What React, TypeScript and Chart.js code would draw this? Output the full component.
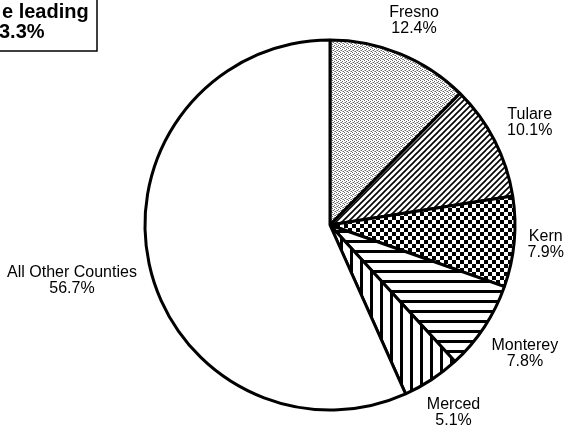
import React, { useEffect, useRef } from "react";
import { Chart, registerables } from "chart.js";

Chart.register(...registerables);

// County shares of the total (percent)
const counties = ["Fresno", "Tulare", "Kern", "Monterey", "Merced", "All Other Counties"];
const shares = [12.4, 10.1, 7.9, 7.8, 5.1, 56.7];
const captionLines = ["e leading", "3.3%"];

const FONT = "'Liberation Sans', Arial, Helvetica, sans-serif";

function tile(w: number, h: number, paint: (c: CanvasRenderingContext2D) => void): CanvasPattern {
  const cv = document.createElement("canvas");
  cv.width = w;
  cv.height = h;
  const c = cv.getContext("2d")!;
  c.fillStyle = "#fff";
  c.fillRect(0, 0, w, h);
  c.fillStyle = "#000";
  c.strokeStyle = "#000";
  paint(c);
  return c.createPattern(cv, "repeat")!;
}

function makeFills(): CanvasPattern[] {
  // fine stipple
  const stipple = tile(4, 4, (c) => {
    c.fillStyle = "#6a6a6a";
    c.fillRect(0, 0, 1, 1);
    c.fillRect(2, 1, 1, 1);
    c.fillRect(1, 2, 1, 1);
    c.fillRect(3, 3, 1, 1);
    c.fillStyle = "#b0b0b0";
    c.fillRect(2, 3, 1, 1);
    c.fillRect(0, 2, 1, 1);
  });
  // forward diagonal hatch
  const diag = tile(6, 6, (c) => {
    c.lineWidth = 1.6;
    c.beginPath();
    c.moveTo(-1, 7);
    c.lineTo(7, -1);
    c.moveTo(-7, 7);
    c.lineTo(1, -1);
    c.moveTo(5, 7);
    c.lineTo(13, -1);
    c.stroke();
  });
  // checkerboard
  const checker = tile(8, 8, (c) => {
    c.fillRect(0, 0, 4, 4);
    c.fillRect(4, 4, 4, 4);
  });
  // horizontal rules
  const horiz = tile(10, 10, (c) => {
    c.fillRect(0, 0, 10, 3);
  });
  // vertical rules
  const vert = tile(10, 10, (c) => {
    c.fillRect(0, 0, 3, 10);
  });
  return [stipple, diag, checker, horiz, vert, "#ffffff" as unknown as CanvasPattern];
}

const sliceLabels = {
  id: "sliceLabels",
  afterDatasetsDraw(chart: Chart) {
    const ctx = chart.ctx;
    const meta = chart.getDatasetMeta(0);
    const fontSize = 16;
    const lineGap = 16;
    const gap = 12;
    ctx.save();
    ctx.font = `${fontSize}px ${FONT}`;
    ctx.fillStyle = "#000";
    ctx.textAlign = "center";
    ctx.textBaseline = "middle";
    meta.data.forEach((el: any, i: number) => {
      const { x, y, startAngle, endAngle, outerRadius } = el.getProps(
        ["x", "y", "startAngle", "endAngle", "outerRadius"],
        true
      );
      const mid = (startAngle + endAngle) / 2;
      const lines = [counties[i], `${shares[i].toFixed(1)}%`];
      const halfW = Math.max(...lines.map((t) => ctx.measureText(t).width)) / 2;
      const halfH = lineGap;
      const dx = Math.cos(mid);
      const dy = Math.sin(mid);
      const d = outerRadius + gap + Math.abs(dx) * halfW + Math.abs(dy) * halfH;
      const cx = x + d * dx;
      const cy = y + d * dy;
      ctx.fillText(lines[0], cx, cy - lineGap / 2);
      ctx.fillText(lines[1], cx, cy + lineGap / 2);
    });
    ctx.restore();
  },
};

const caption = {
  id: "caption",
  afterDraw(chart: Chart) {
    const ctx = chart.ctx;
    ctx.save();
    ctx.strokeStyle = "#000";
    ctx.lineWidth = 1.5;
    ctx.strokeRect(-2, -2, 99, 53);
    ctx.fillStyle = "#000";
    ctx.font = `bold 20px ${FONT}`;
    ctx.textAlign = "left";
    ctx.textBaseline = "alphabetic";
    ctx.fillText(captionLines[0], 2, 18);
    ctx.fillText(captionLines[1], -1, 38);
    ctx.restore();
  },
};

export default function App() {
  const ref = useRef<HTMLCanvasElement | null>(null);

  useEffect(() => {
    if (!ref.current) return;
    const chart = new Chart(ref.current, {
      type: "pie",
      data: {
        labels: counties,
        datasets: [
          {
            data: shares,
            backgroundColor: makeFills() as any,
            borderColor: "#000",
            borderWidth: 3,
            borderAlign: "center",
          },
        ],
      },
      options: {
        animation: false,
        responsive: false,
        devicePixelRatio: 1,
        radius: 185,
        layout: { padding: { left: 95, right: 0, top: 23, bottom: 0 } },
        plugins: {
          legend: { display: false },
          tooltip: { enabled: false },
          title: { display: false },
        },
        events: [],
      } as any,
      plugins: [sliceLabels, caption],
    });
    return () => chart.destroy();
  }, []);

  return (
    <div style={{ position: "fixed", left: 0, top: 0, width: 565, height: 427, background: "#fff" }}>
      <canvas ref={ref} width={565} height={427} style={{ display: "block" }} />
    </div>
  );
}
